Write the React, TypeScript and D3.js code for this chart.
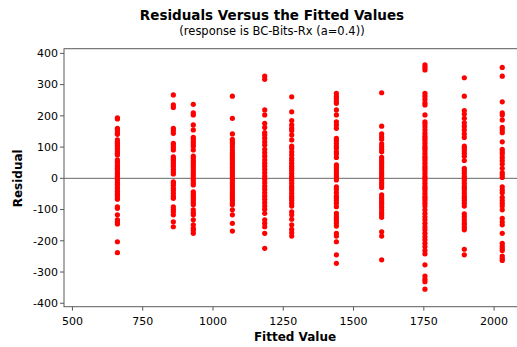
import React from "react";
import * as d3 from "d3";

// Fitted values (one column of residuals per fitted level)
const fittedValues = [660, 859, 930, 1069, 1184, 1280, 1439, 1600, 1754, 1894, 2029];

const residuals660 = [194, 190, 160, 155, 146, 141, 123, 117, 112, 106, 99, 93, 85, 80, 75, 59, 53, 46, 39, 32, 27, 20, 14, 7, 0, -5, -13, -19, -27, -34, -41, -48, -54, -61, -67, -91, -96, -117, -133, -139, -146, -203, -238];
const residuals859 = [267, 235, 227, 160, 153, 144, 112, 107, 99, 91, 69, 63, 57, 50, 43, 37, 29, 21, 14, -11, -16, -23, -32, -39, -48, -57, -64, -91, -99, -107, -117, -139, -155];
const residuals930 = [237, 210, 203, 171, 155, 131, 125, 117, 110, 103, 91, 71, 64, 57, 50, 43, 35, 27, 18, 11, 3, -5, -14, -21, -43, -50, -57, -64, -71, -78, -85, -101, -110, -117, -133, -149, -160, -167, -176];
const residuals1069 = [263, 192, 142, 125, 117, 110, 101, 91, 82, 75, 67, 59, 50, 43, 35, 27, 18, 11, 3, -5, -14, -21, -29, -37, -46, -53, -61, -69, -78, -85, -101, -117, -144, -169];
const residuals1184 = [327, 317, 219, 203, 176, 163, 146, 139, 128, 117, 107, 93, 82, 71, 59, 48, 39, 29, 18, 7, -3, -14, -25, -35, -46, -57, -67, -78, -89, -99, -112, -133, -144, -155, -176, -224];
const residuals1280 = [261, 213, 185, 171, 160, 153, 139, 123, 103, 96, 85, 75, 64, 57, 48, 39, 32, 25, 16, 7, 0, -7, -16, -25, -32, -39, -48, -57, -64, -71, -80, -89, -107, -117, -131, -149, -163, -174, -185];
const residuals1439 = [272, 263, 256, 247, 240, 219, 203, 181, 171, 160, 128, 121, 112, 103, 96, 85, 78, 67, 43, 35, 27, 18, 11, 3, -5, -27, -35, -46, -57, -64, -71, -80, -91, -112, -121, -128, -135, -144, -153, -176, -185, -203, -245, -272];
const residuals1600 = [274, 167, 142, 133, 125, 110, 101, 93, 85, 67, 59, 50, 43, 35, 27, 18, 11, 3, -5, -14, -21, -29, -53, -61, -69, -78, -85, -93, -101, -110, -117, -125, -171, -185, -261];
const residuals1754 = [363, 355, 347, 272, 263, 253, 242, 235, 203, 181, 174, 165, 155, 144, 135, 128, 121, 112, 103, 96, 89, 80, 71, 64, 57, 48, 39, 32, 25, 16, 7, 0, -7, -16, -25, -32, -39, -48, -57, -64, -71, -80, -89, -101, -112, -123, -133, -144, -155, -165, -176, -187, -197, -208, -219, -231, -242, -277, -313, -323, -331, -355];
const residuals1894 = [322, 263, 217, 206, 192, 178, 167, 155, 142, 131, 103, 96, 89, 80, 71, 57, 32, 25, 16, 7, 0, -7, -16, -25, -32, -39, -48, -57, -64, -71, -80, -89, -114, -123, -133, -142, -149, -157, -165, -227, -245];
const residuals2029 = [355, 327, 245, 210, 203, 187, 163, 155, 146, 117, 93, 85, 78, 67, 57, 46, 32, 18, 11, 3, -27, -37, -46, -61, -71, -80, -89, -101, -128, -139, -149, -176, -208, -217, -224, -231, -249, -256, -263];

const residualColumns = [
  residuals660, residuals859, residuals930, residuals1069, residuals1184, residuals1280,
  residuals1439, residuals1600, residuals1754, residuals1894, residuals2029,
];

const xTicks = [500, 750, 1000, 1250, 1500, 1750, 2000];
const yTicks = [400, 300, 200, 100, 0, -100, -200, -300, -400];

const W = 517;
const H = 347;
const left = 64;
const top = 48.7;
const bottom = 306.7;

const x = d3.scaleLinear().domain([470, 2085]).range([left, 518]);
const y = d3.scaleLinear().domain([-411, 415]).range([bottom, top]);

const font = "Tahoma, 'DejaVu Sans', Verdana, sans-serif";
const axisColor = "#5a5a5a";

export default function App() {
  const points = fittedValues.flatMap((f, i) =>
    residualColumns[i].map((r, j) => ({ key: `${i}-${j}`, f, r }))
  );

  return (
    <svg
      width={W}
      height={H}
      style={{ position: "absolute", left: 0, top: 0, background: "#fff" }}
      fontFamily={font}
    >
      <text x={272} y={20} textAnchor="middle" fontSize={13.5} fontWeight="bold" fill="#000">
        Residuals Versus the Fitted Values
      </text>
      <text x={272} y={34.5} textAnchor="middle" fontSize={11.5} fill="#000">
        (response is BC-Bits-Rx (a=0.4))
      </text>

      {/* plot frame */}
      <rect
        x={left}
        y={top}
        width={W + 20 - left}
        height={bottom - top}
        fill="none"
        stroke={axisColor}
        strokeWidth={1}
      />

      {/* zero reference line */}
      <line x1={left} x2={W} y1={y(0)} y2={y(0)} stroke="#666" strokeWidth={1} />

      {/* y axis */}
      {yTicks.map((t) => (
        <g key={`y${t}`}>
          <line x1={left - 4} x2={left} y1={y(t)} y2={y(t)} stroke={axisColor} />
          <text x={left - 6} y={y(t)} dy="0.35em" textAnchor="end" fontSize={11} fill="#000">
            {t}
          </text>
        </g>
      ))}

      {/* x axis */}
      {xTicks.map((t) => (
        <g key={`x${t}`}>
          <line x1={x(t)} x2={x(t)} y1={bottom} y2={bottom + 4} stroke={axisColor} />
          <text x={x(t)} y={bottom + 18} textAnchor="middle" fontSize={11} fill="#000">
            {t}
          </text>
        </g>
      ))}

      <text x={295} y={340.5} textAnchor="middle" fontSize={12} fontWeight="bold" fill="#000">
        Fitted Value
      </text>
      <text
        transform={`translate(22, ${y(0)}) rotate(-90)`}
        textAnchor="middle"
        fontSize={12}
        fontWeight="bold"
        fill="#000"
      >
        Residual
      </text>

      {/* residual points */}
      {points.map((p) => (
        <circle key={p.key} cx={x(p.f)} cy={y(p.r)} r={2.6} fill="#ff0000" />
      ))}
    </svg>
  );
}
